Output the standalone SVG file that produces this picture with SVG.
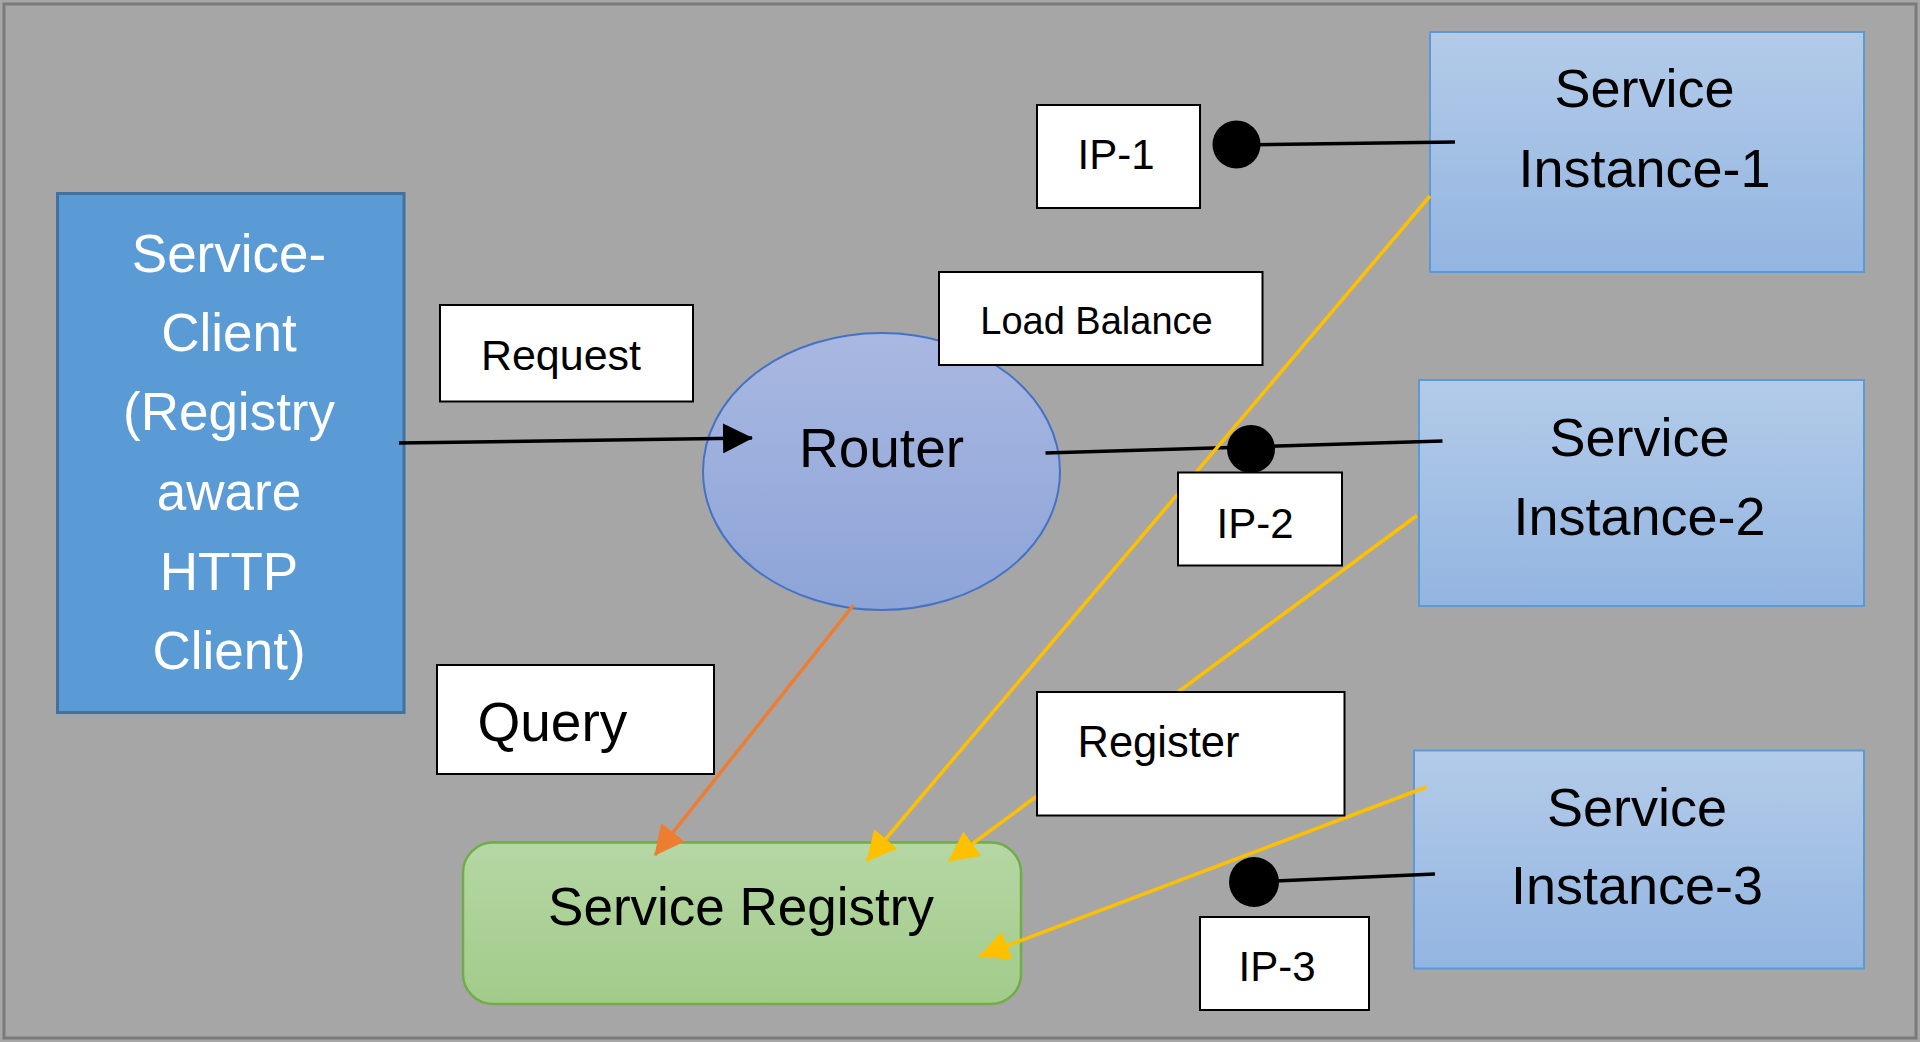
<svg xmlns="http://www.w3.org/2000/svg" width="1920" height="1042" viewBox="0 0 1920 1042">
  <defs>
    <linearGradient id="gInst" x1="0" y1="0" x2="0" y2="1">
      <stop offset="0" stop-color="#b3cbe9"/>
      <stop offset="1" stop-color="#93b5e1"/>
    </linearGradient>
    <linearGradient id="gRouter" x1="0" y1="0" x2="0" y2="1">
      <stop offset="0" stop-color="#a9b8e1"/>
      <stop offset="1" stop-color="#8da4d8"/>
    </linearGradient>
    <linearGradient id="gReg" x1="0" y1="0" x2="0" y2="1">
      <stop offset="0" stop-color="#b5d7a4"/>
      <stop offset="1" stop-color="#a2cb8a"/>
    </linearGradient>
    <marker id="aBlack" viewBox="0 0 30 30" refX="29" refY="15" markerWidth="30" markerHeight="30" markerUnits="userSpaceOnUse" orient="auto">
      <path d="M0,0 L30,15 L0,30 z" fill="#000"/>
    </marker>
    <marker id="aOrange" viewBox="0 0 30 30" refX="29" refY="15" markerWidth="30" markerHeight="30" markerUnits="userSpaceOnUse" orient="auto">
      <path d="M0,0 L30,15 L0,30 z" fill="#ed7d31"/>
    </marker>
    <marker id="aYellow" viewBox="0 0 30 30" refX="29" refY="15" markerWidth="30" markerHeight="30" markerUnits="userSpaceOnUse" orient="auto">
      <path d="M0,0 L30,15 L0,30 z" fill="#ffc000"/>
    </marker>
  </defs>
  <style>
    text { font-family: "Liberation Sans", Arial, sans-serif; }
    .label rect { fill: #ffffff; stroke: #000; stroke-width: 2; }
    .label text { fill: #000; }
    .inst rect { fill: url(#gInst); stroke: #5b9bd5; stroke-width: 2; }
    .inst text { fill: #000; font-size: 54px; text-anchor: middle; }
    .blk { stroke: #000; stroke-width: 3.5; fill: none; }
    .yel { stroke: #ffc000; stroke-width: 3.5; fill: none; marker-end: url(#aYellow); }
    .org { stroke: #ed7d31; stroke-width: 3.5; fill: none; marker-end: url(#aOrange); }
    .dot { fill: #000; }
  </style>

  <rect x="0" y="0" width="1920" height="1042" fill="#a6a6a6"/>
  <rect x="4" y="4" width="1912" height="1034" fill="none" stroke="#7a7a7a" stroke-width="3"/>

  <g id="service-client">
    <rect x="57.5" y="193.5" width="346.5" height="519" fill="#5b9bd5" stroke="#41719c" stroke-width="3"/>
    <g fill="#ffffff" font-size="53" text-anchor="middle">
      <text x="229" y="272">Service-</text>
      <text x="229" y="351">Client</text>
      <text x="229" y="430">(Registry</text>
      <text x="229" y="510">aware</text>
      <text x="229" y="590">HTTP</text>
      <text x="229" y="669">Client)</text>
    </g>
  </g>

  <g id="router">
    <ellipse cx="881.5" cy="471.5" rx="178.5" ry="138.5" fill="url(#gRouter)" stroke="#4472c4" stroke-width="2"/>
    <text x="881.5" y="467" font-size="55" text-anchor="middle" fill="#000">Router</text>
  </g>

  <g id="service-registry">
    <rect x="463" y="842.5" width="558" height="161.5" rx="30" ry="30" fill="url(#gReg)" stroke="#70ad47" stroke-width="2.5"/>
    <text x="741" y="925" font-size="53" text-anchor="middle" fill="#000">Service Registry</text>
  </g>

  <g id="service-instance-1" class="inst">
    <rect x="1430" y="32" width="434" height="240"/>
    <text x="1644.5" y="107">Service</text>
    <text x="1644.5" y="187">Instance-1</text>
  </g>
  <g id="service-instance-2" class="inst">
    <rect x="1419" y="380" width="445" height="226"/>
    <text x="1639.5" y="456">Service</text>
    <text x="1639.5" y="535">Instance-2</text>
  </g>
  <g id="service-instance-3" class="inst">
    <rect x="1414" y="750.5" width="450" height="218"/>
    <text x="1637" y="826">Service</text>
    <text x="1637" y="904">Instance-3</text>
  </g>

  <g id="connectors">
    <line class="blk" x1="399" y1="443" x2="752" y2="438" marker-end="url(#aBlack)"/>
    <line class="org" x1="853.5" y1="605" x2="655" y2="855"/>
    <line class="blk" x1="1045.5" y1="453" x2="1442.5" y2="441"/>
    <line class="blk" x1="1236.5" y1="145" x2="1455" y2="142"/>
    <line class="blk" x1="1254" y1="882" x2="1435" y2="874"/>
    <circle class="dot" cx="1236.5" cy="144.5" r="24"/>
    <circle class="dot" cx="1251" cy="449" r="24"/>
    <circle class="dot" cx="1254" cy="882" r="25"/>
    <line class="yel" x1="1430" y1="196" x2="867" y2="861"/>
    <line class="yel" x1="1417" y1="515.5" x2="949" y2="861"/>
    <line class="yel" x1="1426.5" y1="787" x2="980" y2="956"/>
  </g>

  <g id="label-request" class="label">
    <rect x="440" y="305" width="253" height="96.5"/>
    <text x="561" y="370" font-size="43" text-anchor="middle">Request</text>
  </g>
  <g id="label-load-balance" class="label">
    <rect x="939" y="272" width="323.5" height="93"/>
    <text x="1096.5" y="334" font-size="38" text-anchor="middle">Load Balance</text>
  </g>
  <g id="label-ip1" class="label">
    <rect x="1037" y="105" width="163" height="103"/>
    <text x="1116" y="169" font-size="42" text-anchor="middle">IP-1</text>
  </g>
  <g id="label-ip2" class="label">
    <rect x="1178" y="472.5" width="164" height="93"/>
    <text x="1255" y="538" font-size="42" text-anchor="middle">IP-2</text>
  </g>
  <g id="label-ip3" class="label">
    <rect x="1200" y="917" width="169" height="93"/>
    <text x="1277" y="981" font-size="42" text-anchor="middle">IP-3</text>
  </g>
  <g id="label-query" class="label">
    <rect x="437" y="665" width="277" height="109"/>
    <text x="477.5" y="741" font-size="55">Query</text>
  </g>
  <g id="label-register" class="label">
    <rect x="1037" y="692" width="307.5" height="123.5"/>
    <text x="1077.5" y="757" font-size="43.5">Register</text>
  </g>
</svg>
